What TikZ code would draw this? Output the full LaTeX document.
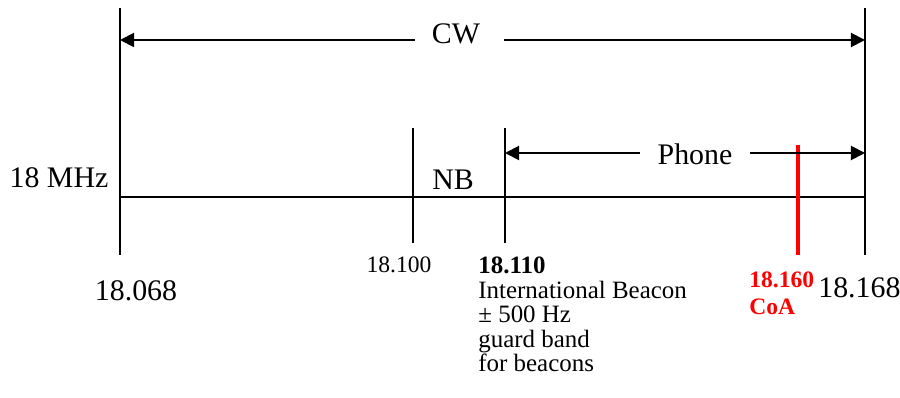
\documentclass[tikz,border=0pt]{standalone}
\usepackage{fontspec}
\setmainfont{Liberation Serif}
\usetikzlibrary{arrows.meta}
\definecolor{coared}{RGB}{255,0,0}
\tikzset{
  band/.style={line width=1.1pt, black},
  halfspan/.style={line width=1.1pt, -{Triangle[length=8pt,width=8pt]}},
  big/.style={font=\fontsize{17}{20}\selectfont, inner sep=0pt},
  small/.style={font=\fontsize{13.4}{14}\selectfont, inner sep=0pt}
}
\begin{document}
\begin{tikzpicture}[x=0.02cm, y=-0.02cm]
            \useasboundingbox (0,0) rectangle (900,398);

            % band edges and marks
            \coordinate (lowtop) at (120,8);
            \coordinate (lowbot) at (120,255);
            \coordinate (hightop) at (865,8);
            \coordinate (highbot) at (865,255);
            \coordinate (nbtop) at (413,128);
            \coordinate (nbbot) at (413,243);
            \coordinate (bctop) at (505,128);
            \coordinate (bcbot) at (505,243);
            \coordinate (coatop) at (798,145);
            \coordinate (coabot) at (798,255);
            \coordinate (axisl) at (120,197);
            \coordinate (axisr) at (865,197);

            \draw[band] (lowtop) -- (lowbot);
            \draw[band] (hightop) -- (highbot);
            \draw[band] (nbtop) -- (nbbot);
            \draw[band] (bctop) -- (bcbot);
            \draw[band] (axisl) -- (axisr);
            \draw[line width=2.4pt, coared] (coatop) -- (coabot);

            % spans
            \coordinate (cwl) at (120,40);
            \coordinate (cwr) at (865,40);
            \coordinate (phl) at (505,153);
            \coordinate (phr) at (865,153);
            \node[big, inner xsep=9.6pt, anchor=base] (cw) at (456,44) {CW};
            \node[big, inner xsep=10pt, anchor=base] (phone) at (695,165) {Phone};
            \draw[halfspan] (cw.west |- cwl) -- (cwl);
            \draw[halfspan] ([xshift=4pt]cw.east |- cwr) -- (cwr);
            \draw[halfspan] (phone.west |- phl) -- (phl);
            \draw[halfspan] (phone.east |- phr) -- (phr);

            % labels
            \node[big, anchor=base] (mhz) at (59,188) {18 MHz};
            \node[big, anchor=base] (nb) at (453,190) {NB};
            \node[big, anchor=base] (f068) at (136,301) {18.068};
            \node[big, anchor=base west] (f168) at (818,298) {18.168};
            \node[small, anchor=base] (f100) at (399,273) {18.100};
            \node[small, anchor=base west, align=left, font=\fontsize{14.2}{14}\selectfont] (f110) at (478,372)
              {\textbf{18.110}\\International Beacon\\± 500 Hz\\guard band\\for beacons};
            \node[small, anchor=base west, align=left, text=coared, font=\fontsize{13.4}{15.8}\selectfont\bfseries] (f160) at (749,315)
              {18.160\\CoA};
        \end{tikzpicture}
\end{document}
